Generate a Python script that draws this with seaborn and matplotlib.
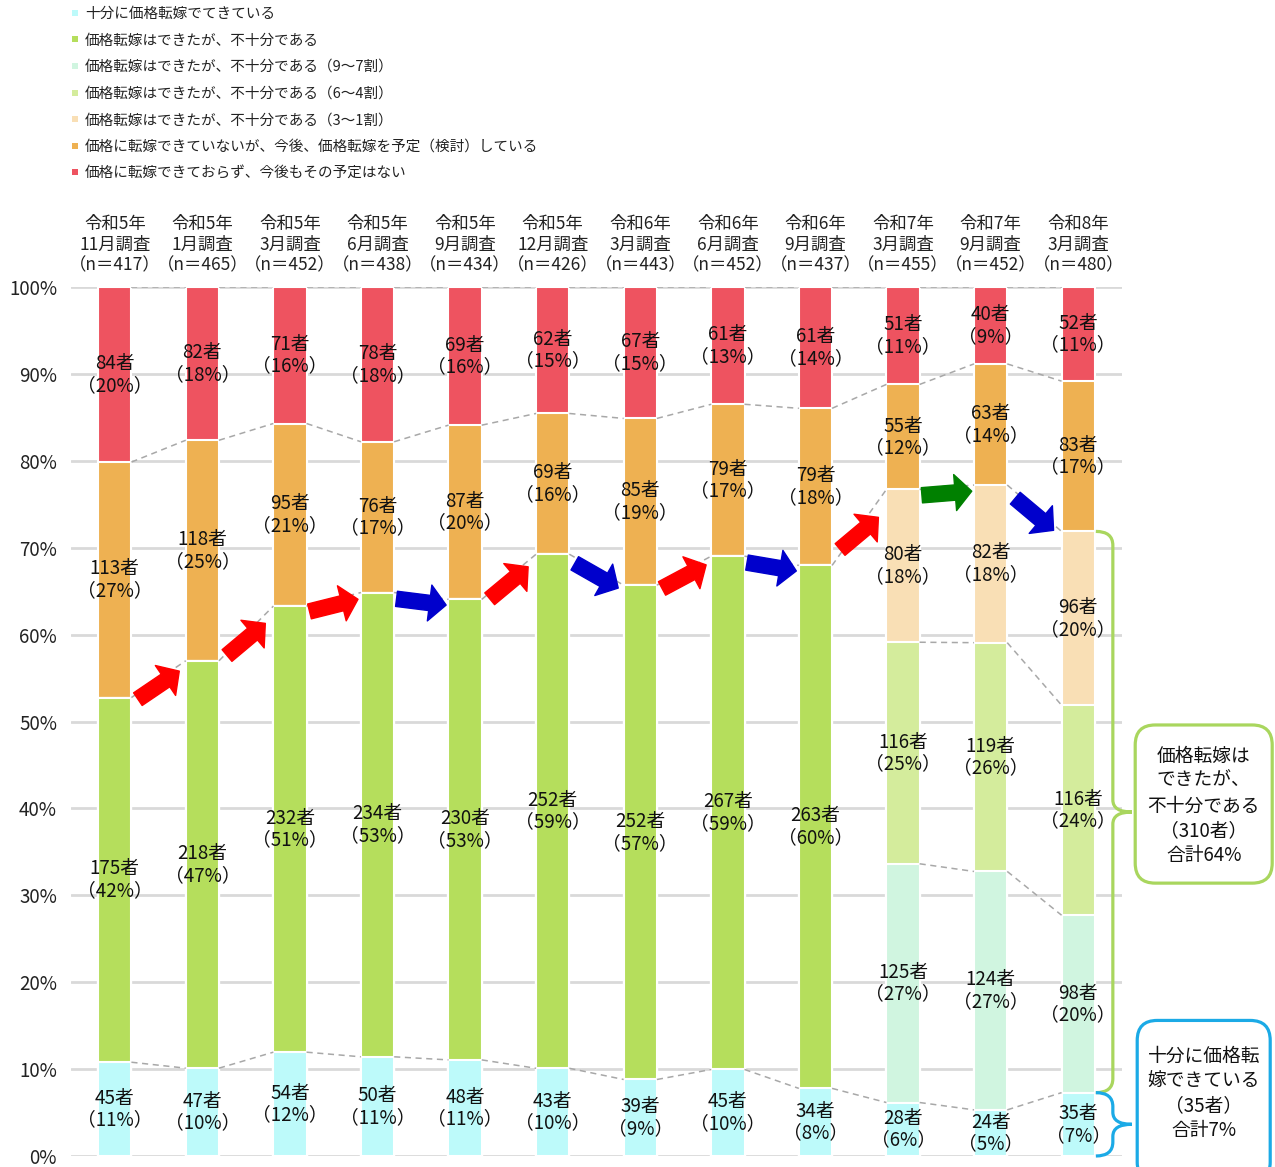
#価格転嫁の状況（調査回ごとの推移）
import numpy as np
import pandas as pd
import matplotlib
matplotlib.use('Agg')
import matplotlib.pyplot as plt
import seaborn as sb
from matplotlib.patches import FancyArrowPatch, FancyBboxPatch, ArrowStyle, PathPatch
from matplotlib.path import Path
from matplotlib.lines import Line2D

#データ
periods = ['令和5年\n11月調査', '令和5年\n1月調査', '令和5年\n3月調査', '令和5年\n6月調査',
           '令和5年\n9月調査', '令和5年\n12月調査', '令和6年\n3月調査', '令和6年\n6月調査',
           '令和6年\n9月調査', '令和7年\n3月調査', '令和7年\n9月調査', '令和8年\n3月調査']
n_resp = [417, 465, 452, 438, 434, 426, 443, 452, 437, 455, 452, 480]

full_pass = [45, 47, 54, 50, 48, 43, 39, 45, 34, 28, 24, 35]
part_pass = [175, 218, 232, 234, 230, 252, 252, 267, 263, 0, 0, 0]
part_97 = [0, 0, 0, 0, 0, 0, 0, 0, 0, 125, 124, 98]
part_64 = [0, 0, 0, 0, 0, 0, 0, 0, 0, 116, 119, 116]
part_31 = [0, 0, 0, 0, 0, 0, 0, 0, 0, 80, 82, 96]
plan_pass = [113, 118, 95, 76, 87, 69, 85, 79, 79, 55, 63, 83]
no_plan = [84, 82, 71, 78, 69, 62, 67, 61, 61, 51, 40, 52]

leg_names = ['十分に価格転嫁でてきている',
             '価格転嫁はできたが、不十分である',
             '価格転嫁はできたが、不十分である（9～7割）',
             '価格転嫁はできたが、不十分である（6～4割）',
             '価格転嫁はできたが、不十分である（3～1割）',
             '価格に転嫁できていないが、今後、価格転嫁を予定（検討）している',
             '価格に転嫁できておらず、今後もその予定はない']
colors = ['#BDFAFA', '#B5DE5C', '#D0F5E0', '#D4EC9C', '#F9DFB5', '#EEB152', '#EE5360']

box_green_text = '価格転嫁は\nできたが、\n不十分である\n（310者）\n合計64%'
box_blue_text = '十分に価格転\n嫁できている\n（35者）\n合計7%'

#前処理
segs = [full_pass, part_pass, part_97, part_64, part_31, plan_pass, no_plan]
counts = np.array(segs, dtype=float)
n_arr = np.array(n_resp, dtype=float)
pct = counts / n_arr * 100
cum = np.cumsum(pct, axis=0)  # c0..c6

headers = [f'{p}\n（n＝{n}）' for p, n in zip(periods, n_resp)]
df = pd.DataFrame({'header': headers})
for k in range(7):
    df[f'c{k}'] = cum[k]

#シーェ
sb.set_theme(style='white')
plt.rcParams['font.family'] = ['Noto Sans CJK JP', 'DejaVu Sans']

W = 0.38
fig = plt.figure(figsize=(12.75, 11.67), dpi=100)
ax = fig.add_axes([71 / 1275, 1 - 1156 / 1167, (1122 - 71) / 1275, (1156 - 287) / 1167])

for k in reversed(range(7)):
    sb.barplot(data=df, x='header', y=f'c{k}', color=colors[k], saturation=1, width=W,
               edgecolor='white', linewidth=1.5, errorbar=None, ax=ax, zorder=2)

ax.set_xlim(-0.5, len(headers) - 0.5)
ax.set_ylim(0, 100)
ax.set_yticks(range(0, 101, 10))
ax.set_yticklabels([f'{v}%' for v in range(0, 101, 10)], fontsize=13.5, color='#222222')
ax.set_xlabel('')
ax.set_ylabel('')
ax.xaxis.set_ticks_position('top')
ax.tick_params(axis='x', which='both', bottom=False, top=False, labelbottom=False,
               labeltop=True, pad=3, labelsize=12.5, labelcolor='#222222')
ax.tick_params(axis='y', length=0, pad=10)
for t in ax.get_xticklabels():
    t.set_linespacing(1.2)
ax.set_axisbelow(True)
ax.grid(axis='y', color='#D9D9D9', lw=2)
ax.grid(axis='x', visible=False)
for s in ax.spines.values():
    s.set_visible(False)

#セグメントラベル
for i in range(len(headers)):
    for k in range(7):
        c = int(counts[k, i])
        if c == 0:
            continue
        lo = cum[k - 1, i] if k > 0 else 0
        y = (lo + cum[k, i]) / 2
        ax.text(i, y, f'{c}者\n（{int(pct[k, i] + 0.5)}%）', ha='center', va='center',
                fontsize=13.5, color='#111111', linespacing=1.05, zorder=6)

#破線
def bounds(i):
    b = {'ok': cum[0, i], 'pass': cum[4, i], 'plan': cum[5, i], 'top': cum[6, i]}
    if part_97[i] > 0:
        b['a'] = cum[2, i]
        b['b'] = cum[3, i]
    return b

for i in range(len(headers) - 1):
    b1, b2 = bounds(i), bounds(i + 1)
    for key in b1:
        if key in b2:
            ax.plot([i + W / 2, i + 1 - W / 2], [b1[key], b2[key]], ls=(0, (4, 3)),
                    color='#A8A8A8', lw=1.1, zorder=3)

#矢印
px_x = ax.bbox.width / (len(headers))
px_y = ax.bbox.height / 100
inv = ax.transData.inverted()
for i in range(len(headers) - 1):
    y1, y2 = cum[4, i], cum[4, i + 1]
    p1 = ax.transData.transform((i + W / 2, y1))
    p2 = ax.transData.transform((i + 1 - W / 2, y2))
    mid = (p1 + p2) / 2 - np.array([0, 6])
    ang = np.arctan2(p2[1] - p1[1], p2[0] - p1[0])
    ang = np.clip(ang, -np.radians(40), np.radians(40))
    d = np.array([np.cos(ang), np.sin(ang)]) * 25
    diff = y2 - y1
    col = '#FF0000' if diff > 0.6 else ('#0000CC' if diff < -0.6 else '#008000')
    a = FancyArrowPatch(inv.transform(mid - d), inv.transform(mid + d),
                        arrowstyle=ArrowStyle.Simple(head_length=12, head_width=26, tail_width=11),
                        mutation_scale=1, color=col, shrinkA=0, shrinkB=0, zorder=5)
    ax.add_patch(a)

#波括弧
ux, uy = 1 / px_x, 1 / px_y
def brace(x0, y_top, y_bot, color):
    x1 = x0 + 17 * ux
    x2 = x0 + 36 * ux
    r = min(14 * uy, (y_top - y_bot) / 4)
    rm = min(12 * uy, (y_top - y_bot) / 5)
    ym = (y_top + y_bot) / 2
    verts = [(x0, y_top), (x1, y_top), (x1, y_top - r),
             (x1, ym + rm), (x1, ym), (x2, ym),
             (x1, ym), (x1, ym - rm),
             (x1, y_bot + r), (x1, y_bot), (x0, y_bot)]
    codes = [Path.MOVETO, Path.CURVE3, Path.CURVE3, Path.LINETO, Path.CURVE3, Path.CURVE3,
             Path.CURVE3, Path.CURVE3, Path.LINETO, Path.CURVE3, Path.CURVE3]
    ax.add_patch(PathPatch(Path(verts, codes), fc='none', ec=color, lw=2.3, clip_on=False, zorder=4))
    return ym

last = len(headers) - 1
xb = last + W / 2 + 1 * ux
ym_g = brace(xb, cum[4, last], cum[0, last], '#A9D65E')
ym_b = brace(xb, cum[0, last], 0, '#1BAAE6')

def box(x_l, x_r, y_b, y_t, color, txt, ty):
    ax.add_patch(FancyBboxPatch((x_l, y_b), x_r - x_l, y_t - y_b,
                                boxstyle=f'round,pad=0,rounding_size={20 * ux}',
                                mutation_aspect=uy / ux, fc='white', ec=color, lw=2.3,
                                clip_on=False, zorder=4))
    ax.text((x_l + x_r) / 2, ty, txt, ha='center', va='center', fontsize=13.5,
            color='#111111', linespacing=1.25, zorder=6, clip_on=False)

box(last + 57 * ux, last + 194 * ux, 31.4, 49.6, '#A9D65E', box_green_text, ym_g + 0.7)
box(last + 59 * ux, last + 192 * ux, -3, 15.6, '#1BAAE6', box_blue_text, 7.2)

#凡例
handles = [Line2D([], [], marker='s', ls='', markersize=4, color=c, markeredgewidth=0) for c in colors]
fig.legend(handles, leg_names, loc='upper left', bbox_to_anchor=(71 / 1275, 1 - 7 / 1167),
           frameon=False, fontsize=10.5, handlelength=0.6, handletextpad=0.35,
           labelspacing=0.86, borderpad=0, borderaxespad=0, labelcolor='#222222')

fig.savefig('out.png', dpi=100)
